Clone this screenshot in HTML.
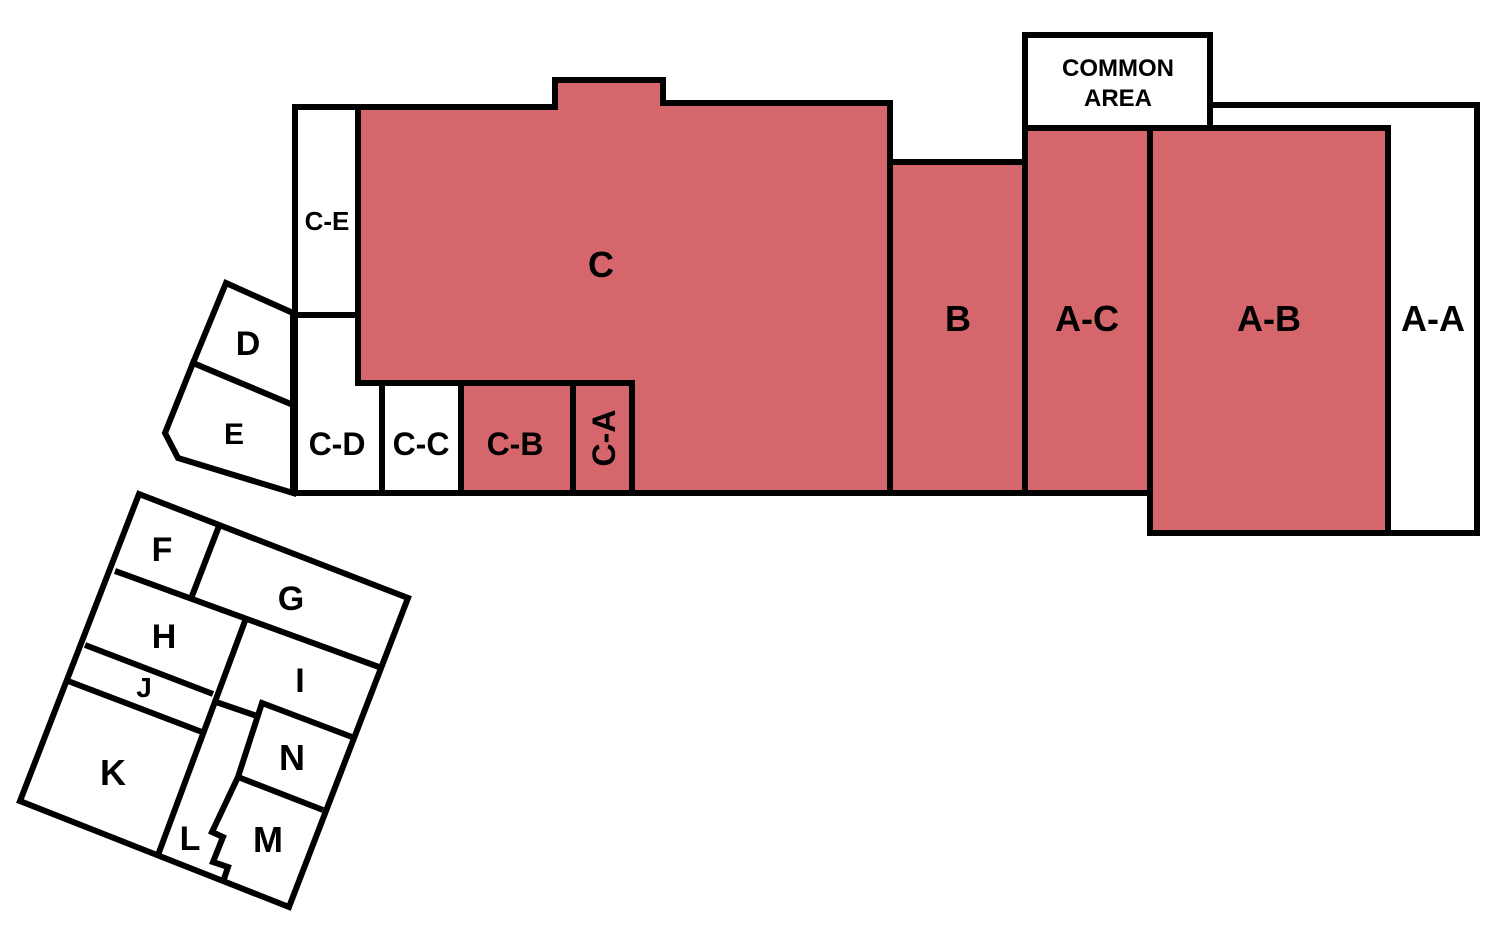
<!DOCTYPE html>
<html><head><style>html,body{margin:0;padding:0;background:#fff}svg{display:block}text{font-family:"Liberation Sans",sans-serif;font-weight:bold;fill:#000;text-anchor:middle}</style></head>
<body>
<svg width="1500" height="925" viewBox="0 0 1500 925">
<g stroke="#000" stroke-width="6" stroke-linejoin="miter">
<polygon points="1025,35 1210,35 1210,105 1477,105 1477,533 1388,533 1388,128 1025,128" fill="#fff"/>
<rect x="1025" y="35" width="185" height="93" fill="#fff"/>
<polygon points="358,107 555,107 555,80 663,80 663,103 890,103 890,493 632,493 632,383 358,383" fill="#d5666c"/>
<polygon points="295,107 358,107 358,315 295,315" fill="#fff"/>
<polygon points="295,315 358,315 358,383 382,383 382,493 295,493" fill="#fff"/>
<rect x="382" y="383" width="79" height="110" fill="#fff"/>
<rect x="461" y="383" width="112" height="110" fill="#d5666c"/>
<rect x="573" y="383" width="59" height="110" fill="#d5666c"/>
<rect x="890" y="162" width="135" height="331" fill="#d5666c"/>
<rect x="1025" y="128" width="125" height="365" fill="#d5666c"/>
<rect x="1150" y="128" width="238" height="405" fill="#d5666c"/>
<polygon points="226,283 293,313 293,405 193,363" fill="#fff"/>
<polygon points="193,363 293,405 293,493 178,458 165,433" fill="#fff"/>
<polygon points="139,494 408,598 289,907 20,801" fill="#fff"/>
<g fill="none">
<line x1="219" y1="526" x2="192" y2="596"/>
<line x1="115" y1="571" x2="379" y2="667"/>
<line x1="245" y1="621" x2="158" y2="855"/>
<line x1="85" y1="645" x2="213" y2="694"/>
<line x1="68" y1="681" x2="202" y2="732"/>
<line x1="216" y1="702" x2="257" y2="716"/>
<polyline points="352,737 262,703 238,777 212,832 223,837 213,862 228,867 223,882"/>
<line x1="238" y1="777" x2="323" y2="810"/>
</g>
</g>
<text x="601" y="277" font-size="36">C</text>
<text x="958" y="331" font-size="36">B</text>
<text x="1087" y="331" font-size="36">A-C</text>
<text x="1269" y="331" font-size="36">A-B</text>
<text x="1433" y="331" font-size="36">A-A</text>
<text x="1118" y="76" font-size="24">COMMON</text>
<text x="1118" y="106" font-size="24">AREA</text>
<text x="327" y="230" font-size="26">C-E</text>
<text x="337" y="455" font-size="32">C-D</text>
<text x="421" y="455" font-size="32">C-C</text>
<text x="515" y="455" font-size="32">C-B</text>
<text x="0" y="0" font-size="32" transform="translate(615,438) rotate(-90)">C-A</text>
<text x="248" y="355" font-size="34">D</text>
<text x="234" y="444" font-size="30">E</text>
<text x="162" y="561" font-size="34">F</text>
<text x="291" y="610" font-size="34">G</text>
<text x="164" y="648" font-size="34">H</text>
<text x="300" y="692" font-size="34">I</text>
<text x="144" y="697" font-size="28">J</text>
<text x="113" y="785" font-size="36">K</text>
<text x="292" y="770" font-size="36">N</text>
<text x="190" y="850" font-size="34">L</text>
<text x="268" y="852" font-size="36">M</text>
</svg>
</body></html>
